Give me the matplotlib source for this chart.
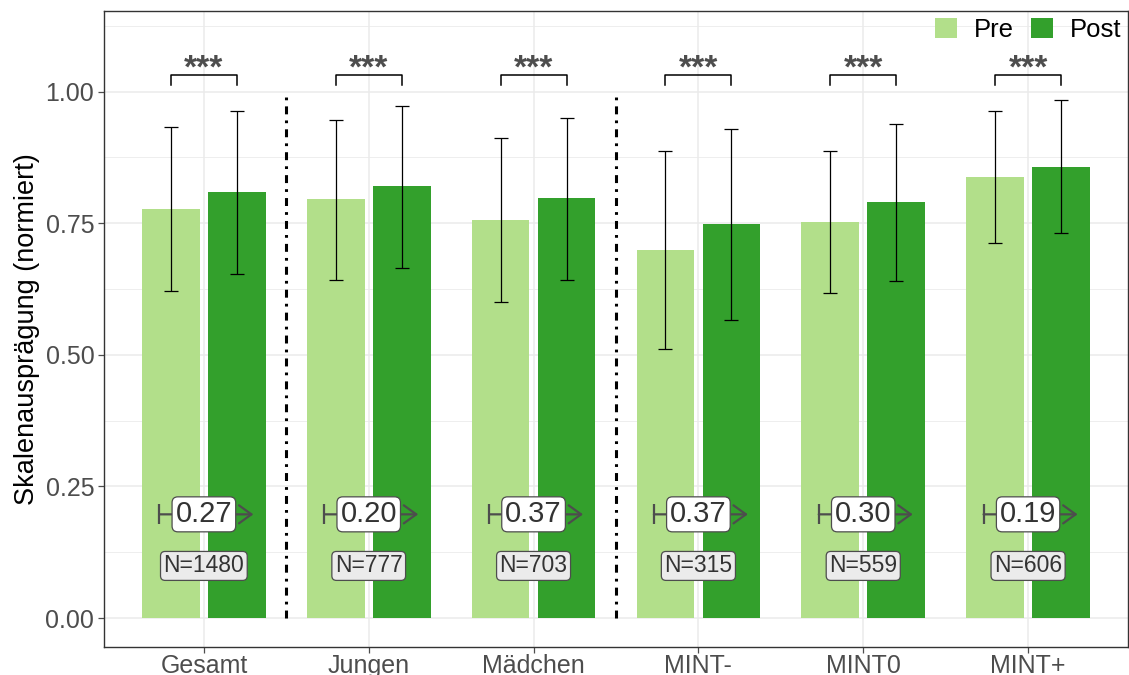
import matplotlib
matplotlib.use("Agg")
import matplotlib.pyplot as plt
from matplotlib.patches import Patch

plt.rcParams['font.family'] = ['Liberation Sans', 'DejaVu Sans']

# Daten
groups = ['Gesamt', 'Jungen', 'Mädchen', 'MINT-', 'MINT0', 'MINT+']
pre_mean = [0.777, 0.796, 0.756, 0.700, 0.752, 0.838]
pre_lo = [0.622, 0.643, 0.601, 0.512, 0.617, 0.712]
pre_hi = [0.932, 0.946, 0.912, 0.888, 0.888, 0.963]
post_mean = [0.810, 0.820, 0.798, 0.749, 0.790, 0.857]
post_lo = [0.654, 0.665, 0.643, 0.567, 0.641, 0.731]
post_hi = [0.963, 0.972, 0.950, 0.929, 0.938, 0.984]
effect = ['0.27', '0.20', '0.37', '0.37', '0.30', '0.19']
n_labels = ['N=1480', 'N=777', 'N=703', 'N=315', 'N=559', 'N=606']
stars = ['***'] * 6
separators = [1.5, 3.5]

c_pre = '#B2DF8A'
c_post = '#33A02C'
grey = '#4D4D4D'

fig = plt.figure(figsize=(11.29, 6.75), dpi=100)
ax = fig.add_axes([0.0921, 0.0415, 0.907, 0.942])

x = list(range(1, len(groups) + 1))
xp = [i - 0.2 for i in x]
xq = [i + 0.2 for i in x]

ax.bar(xp, pre_mean, width=0.35, color=c_pre, zorder=2)
ax.bar(xq, post_mean, width=0.35, color=c_post, zorder=2)

ax.errorbar(xp, pre_mean,
            yerr=[[m - l for m, l in zip(pre_mean, pre_lo)],
                  [h - m for m, h in zip(pre_mean, pre_hi)]],
            fmt='none', ecolor='black', elinewidth=0.9, capsize=4.7, capthick=0.9, zorder=3)
ax.errorbar(xq, post_mean,
            yerr=[[m - l for m, l in zip(post_mean, post_lo)],
                  [h - m for m, h in zip(post_mean, post_hi)]],
            fmt='none', ecolor='black', elinewidth=0.9, capsize=4.7, capthick=0.9, zorder=3)

# Signifikanz
for i in range(len(groups)):
    ax.plot([xp[i], xp[i], xq[i], xq[i]], [1.013, 1.032, 1.032, 1.013],
            color='black', lw=1.1, zorder=3)
    ax.text(x[i], 1.027, stars[i], ha='center', va='baseline', fontsize=24,
            fontweight='bold', color=grey, zorder=4)

# Effektstaerke
for i in range(len(groups)):
    ax.annotate('', xy=(x[i] + 0.3, 0.197), xytext=(x[i] - 0.27, 0.197),
                arrowprops=dict(arrowstyle='->,head_length=0.9,head_width=0.65',
                                color=grey, lw=1.6, shrinkA=0, shrinkB=0), zorder=4)
    ax.plot([x[i] - 0.27], [0.197], marker='|', markersize=14, mew=1.6, color=grey, zorder=4)
    ax.text(x[i], 0.197, effect[i], ha='center', va='center', fontsize=21, color='#333333',
            bbox=dict(boxstyle='round,pad=0.12,rounding_size=0.2', fc='white', ec=grey, lw=0.9),
            zorder=5)
    ax.text(x[i], 0.099, n_labels[i], ha='center', va='center', fontsize=16.5, color='#333333',
            bbox=dict(boxstyle='round,pad=0.13,rounding_size=0.2', fc='#EBEBEB', ec=grey, lw=0.9),
            zorder=5)

for s in separators:
    ax.plot([s, s], [0, 0.995], color='black', lw=2.2,
            linestyle=(0, (2.6, 2.0, 0.9, 2.0)), zorder=3)

ax.set_xlim(0.394, 6.606)
ax.set_ylim(-0.055, 1.153)
ax.set_xticks(x)
ax.set_xticklabels(groups)
ax.set_yticks([0, 0.25, 0.5, 0.75, 1.0])
ax.set_yticklabels(['0.00', '0.25', '0.50', '0.75', '1.00'])
ax.set_yticks([0.125, 0.375, 0.625, 0.875, 1.125], minor=True)
ax.tick_params(axis='both', which='major', labelsize=18, labelcolor=grey, color=grey,
               length=4, width=0.9, pad=3)
ax.tick_params(axis='x', which='major', pad=1)
ax.tick_params(axis='y', which='minor', length=0)
ax.grid(True, which='major', color='#EBEBEB', lw=1.1, zorder=0)
ax.grid(True, which='minor', axis='y', color='#EBEBEB', lw=0.6, zorder=0)
ax.set_axisbelow(True)
for sp in ax.spines.values():
    sp.set_color('#333333')
    sp.set_linewidth(1.0)
ax.set_ylabel('Skalenausprägung (normiert)', fontsize=19.5, labelpad=4)

handles = [Patch(facecolor=c_pre, label='Pre'), Patch(facecolor=c_post, label='Post')]
ax.legend(handles=handles, loc='upper right', ncol=2, frameon=False, fontsize=18.5,
          handlelength=0.86, handleheight=0.86, columnspacing=0.66, handletextpad=0.66,
          borderaxespad=0.05, borderpad=0.2)

fig.savefig('out.png', dpi=100)
